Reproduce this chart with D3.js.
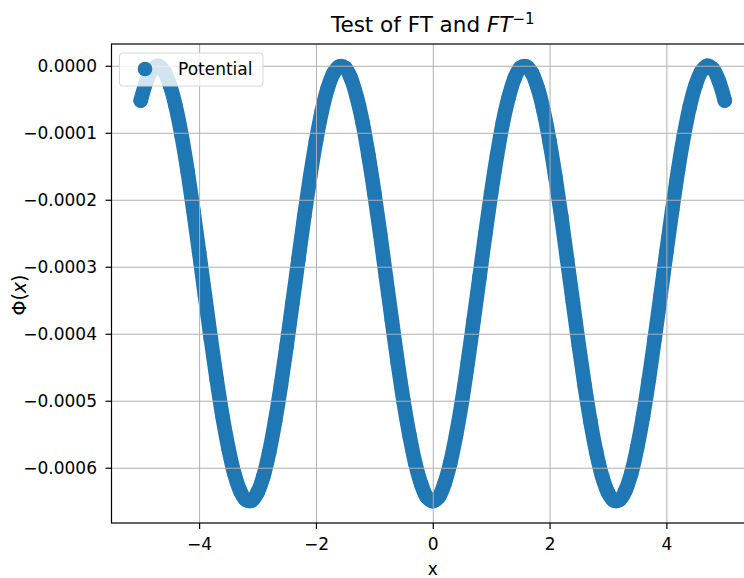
<!DOCTYPE html>
<html>
<head>
<meta charset="utf-8">
<script src="https://cdn.jsdelivr.net/npm/d3@7"></script>
<style>
  body { margin: 0; background: #fff; }
  text { font-family: "DejaVu Sans", sans-serif; fill: #000; }
</style>
</head>
<body>
<svg></svg>
<script>
// sample positions along x
let xValues = [
  -5.0, -4.9, -4.8, -4.7, -4.6, -4.5, -4.4, -4.3, -4.2, -4.1,
  -4.0, -3.9, -3.8, -3.7, -3.6, -3.5, -3.4, -3.3, -3.2, -3.1,
  -3.0, -2.9, -2.8, -2.7, -2.6, -2.5, -2.4, -2.3, -2.2, -2.1,
  -2.0, -1.9, -1.8, -1.7, -1.6, -1.5, -1.4, -1.3, -1.2, -1.1,
  -1.0, -0.9, -0.8, -0.7, -0.6, -0.5, -0.4, -0.3, -0.2, -0.1,
  0.0, 0.1, 0.2, 0.3, 0.4, 0.5, 0.6, 0.7, 0.8, 0.9,
  1.0, 1.1, 1.2, 1.3, 1.4, 1.5, 1.6, 1.7, 1.8, 1.9,
  2.0, 2.1, 2.2, 2.3, 2.4, 2.5, 2.6, 2.7, 2.8, 2.9,
  3.0, 3.1, 3.2, 3.3, 3.4, 3.5, 3.6, 3.7, 3.8, 3.9,
  4.0, 4.1, 4.2, 4.3, 4.4, 4.5, 4.6, 4.7, 4.8, 4.9,
  5.0
];

// potential, in units of 1e-6
let phiMicro = [
  -52, -23, -5, 0, -8, -29, -61, -104, -156, -215,
  -278, -343, -407, -468, -523, -570, -608, -634, -648, -649,
  -637, -613, -577, -531, -477, -417, -353, -289, -225, -166,
  -113, -68, -34, -11, -1, -3, -19, -47, -85, -134,
  -190, -251, -316, -380, -443, -501, -551, -593, -624, -644,
  -650, -644, -624, -593, -551, -501, -443, -380, -316, -251,
  -190, -134, -85, -47, -19, -3, -1, -11, -34, -68,
  -113, -166, -225, -289, -353, -417, -477, -531, -577, -613,
  -637, -649, -648, -634, -608, -570, -523, -468, -407, -343,
  -278, -215, -156, -104, -61, -29, -8, 0, -5, -23,
  -52
];

let xTicks = [-4, -2, 0, 2, 4];
let yTicks = [0, -0.0001, -0.0002, -0.0003, -0.0004, -0.0005, -0.0006];

let width = 744;
let height = 578;
let plotLeft = 111.5;
let plotRight = 754;
let plotTop = 44;
let plotBottom = 523;
let blue = "#1f77b4";
let r = 7.3;

let points = xValues.map((x, i) => ({ x: x, y: phiMicro[i] * 1e-6 }));

let svg = d3.select("svg").attr("width", width).attr("height", height);

let xScale = d3.scaleLinear().domain([-5.5, 5.5]).range([plotLeft, plotRight]);
let yScale = d3.scaleLinear().domain([-0.0006825, 0.0000325]).range([plotBottom, plotTop]);

let plot = svg.append("g");

// the dense scatter forms a solid band: trace it, then mark samples
let line = d3
  .line()
  .x((d) => xScale(d.x))
  .y((d) => yScale(d.y))
  .curve(d3.curveCatmullRom);

plot
  .append("path")
  .datum(points)
  .attr("d", line)
  .attr("fill", "none")
  .attr("stroke", blue)
  .attr("stroke-width", 2 * r)
  .attr("stroke-linecap", "round")
  .attr("stroke-linejoin", "round");

plot
  .selectAll("circle")
  .data(points)
  .enter()
  .append("circle")
  .attr("cx", (d) => xScale(d.x))
  .attr("cy", (d) => yScale(d.y))
  .attr("r", r)
  .attr("fill", blue);

// grid sits above the scatter
let xGrid = d3.axisBottom(xScale).tickValues(xTicks).tickSize(-(plotBottom - plotTop)).tickFormat("");
let yGrid = d3.axisLeft(yScale).tickValues(yTicks).tickSize(-(plotRight - plotLeft)).tickFormat("");

svg.append("g").attr("transform", "translate(0," + plotBottom + ")").call(xGrid)
  .call((g) => g.select(".domain").remove())
  .selectAll("line").attr("stroke", "#b0b0b0").attr("stroke-width", 1);
svg.append("g").attr("transform", "translate(" + plotLeft + ",0)").call(yGrid)
  .call((g) => g.select(".domain").remove())
  .selectAll("line").attr("stroke", "#b0b0b0").attr("stroke-width", 1);

// spines
svg.append("rect")
  .attr("x", plotLeft).attr("y", plotTop)
  .attr("width", plotRight - plotLeft).attr("height", plotBottom - plotTop)
  .attr("fill", "none").attr("stroke", "#000").attr("stroke-width", 1.2);

let xAxis = d3.axisBottom(xScale).tickValues(xTicks).tickSize(6).tickPadding(9)
  .tickFormat((d) => (d < 0 ? "\u2212" + Math.abs(d) : d));
let yAxis = d3.axisLeft(yScale).tickValues(yTicks).tickSize(6).tickPadding(8.5)
  .tickFormat((d) => (d < 0 ? "\u2212" : "") + Math.abs(d).toFixed(4));

let gx = svg.append("g").attr("transform", "translate(0," + plotBottom + ")").call(xAxis);
let gy = svg.append("g").attr("transform", "translate(" + plotLeft + ",0)").call(yAxis);
[gx, gy].forEach((g) => {
  g.select(".domain").remove();
  g.selectAll("line").attr("stroke", "#000").attr("stroke-width", 1.2);
  g.selectAll("text").attr("font-size", 17).attr("font-family", "DejaVu Sans").attr("fill", "#000");
});

// legend
let legend = svg.append("g");
legend.append("rect")
  .attr("x", 119.5).attr("y", 53).attr("width", 143.5).attr("height", 33).attr("rx", 3)
  .attr("fill", "#fff").attr("fill-opacity", 0.8)
  .attr("stroke", "#d6d6d6").attr("stroke-width", 1);
legend.append("circle").attr("cx", 145).attr("cy", 69).attr("r", r).attr("fill", blue);
legend.append("text").attr("x", 178).attr("y", 75).attr("font-size", 17).text("Potential");

// title
let title = svg.append("text")
  .attr("x", (plotLeft + plotRight) / 2).attr("y", 32)
  .attr("text-anchor", "middle").attr("font-size", 21.5);
title.append("tspan").text("Test of FT and ");
title.append("tspan").attr("font-style", "italic").text("FT");
title.append("tspan").attr("font-size", 15).attr("dy", -8).text("\u22121");

// axis labels
svg.append("text")
  .attr("x", (plotLeft + plotRight) / 2).attr("y", 575)
  .attr("text-anchor", "middle").attr("font-size", 17).text("x");

let ylab = svg.append("text")
  .attr("transform", "translate(26,295) rotate(-90)")
  .attr("text-anchor", "middle").attr("font-size", 19)
  .attr("font-family", "DejaVu Serif");
ylab.append("tspan").text("\u03A6(");
ylab.append("tspan").attr("font-style", "italic").text("x");
ylab.append("tspan").text(")");
</script>
</body>
</html>
